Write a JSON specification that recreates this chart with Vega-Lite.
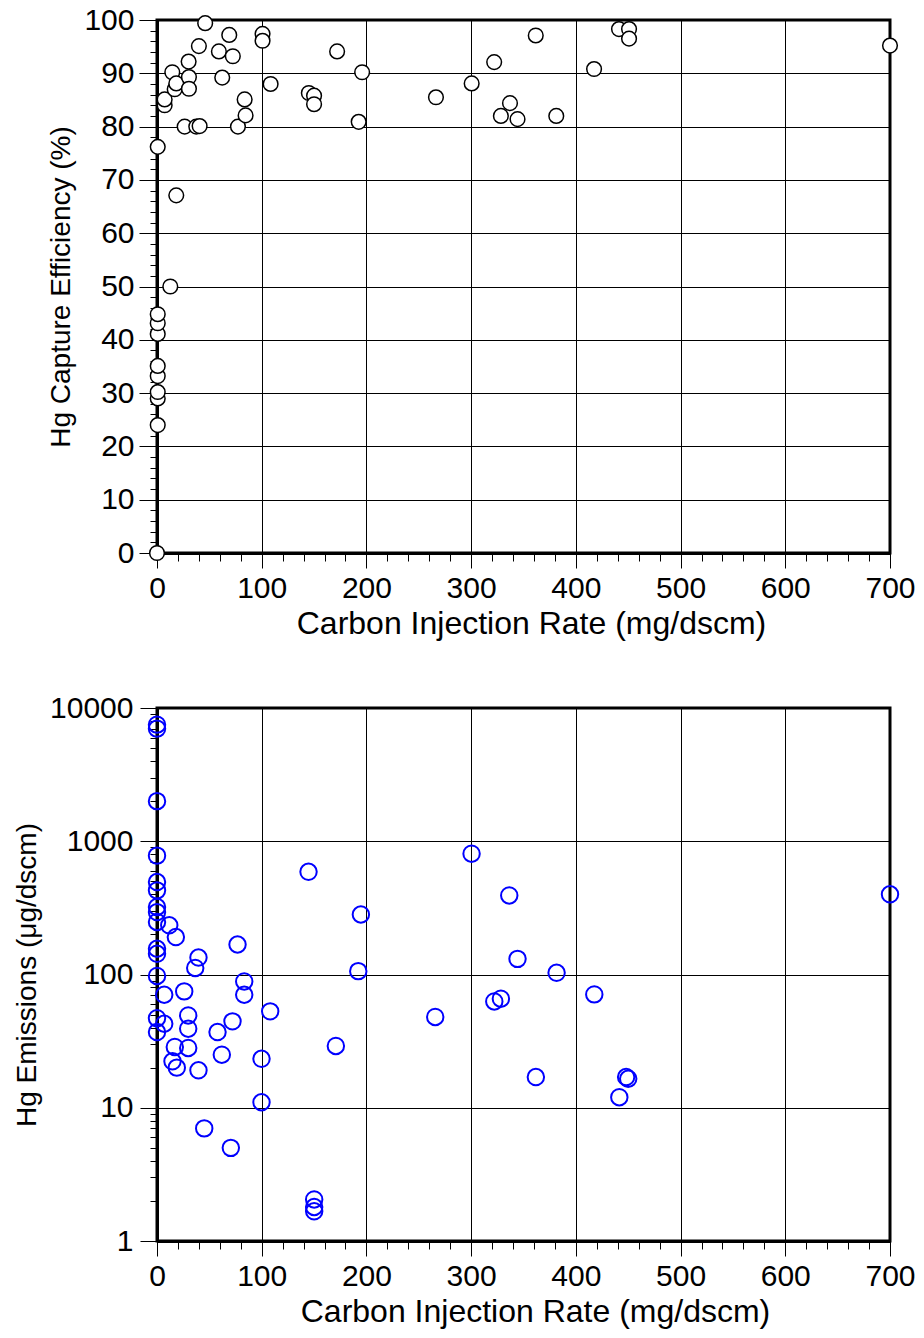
{
  "$schema": "https://vega.github.io/schema/vega-lite/v6.json",
  "background": "white",
  "padding": {"left": 12, "top": 3, "right": 20, "bottom": 5},
  "spacing": 50,
  "config": {
    "font": "Liberation Sans",
    "view": {"stroke": "black", "strokeWidth": 3},
    "axis": {
      "domainColor": "black",
      "domainWidth": 3,
      "tickColor": "black",
      "tickWidth": 1,
      "gridColor": "black",
      "gridWidth": 1,
      "labelColor": "black",
      "labelFontSize": 30,
      "labelFlush": false,
      "labelOverlap": false,
      "labelBound": false,
      "titleColor": "black",
      "titleFontSize": 28,
      "titleFontWeight": "normal"
    }
  },
  "datasets": {
    "capture": [
      {"rate": 0, "eff": 0}, {"rate": 0.7, "eff": 24}, {"rate": 0.7, "eff": 29}, {"rate": 0.7, "eff": 30.2},
      {"rate": 0.7, "eff": 33.2}, {"rate": 0.7, "eff": 35.1}, {"rate": 0.7, "eff": 41.1}, {"rate": 0.7, "eff": 43.1},
      {"rate": 0.7, "eff": 44.8}, {"rate": 0.7, "eff": 76.2}, {"rate": 12.7, "eff": 50}, {"rate": 18.4, "eff": 67.1},
      {"rate": 7.3, "eff": 84}, {"rate": 7.3, "eff": 85.1}, {"rate": 14.6, "eff": 90.2}, {"rate": 16.9, "eff": 87},
      {"rate": 18.4, "eff": 88.1}, {"rate": 26.4, "eff": 80}, {"rate": 30.2, "eff": 92.2}, {"rate": 30.5, "eff": 89.3},
      {"rate": 30.5, "eff": 87.1}, {"rate": 37.5, "eff": 80}, {"rate": 40.7, "eff": 80.1}, {"rate": 40, "eff": 95.1},
      {"rate": 46, "eff": 99.4}, {"rate": 59.1, "eff": 94.1}, {"rate": 62.3, "eff": 89.2}, {"rate": 69, "eff": 97.2},
      {"rate": 72.4, "eff": 93.2}, {"rate": 77.3, "eff": 80}, {"rate": 83.7, "eff": 85.1}, {"rate": 84.6, "eff": 82.1},
      {"rate": 100.8, "eff": 97.4}, {"rate": 100.8, "eff": 96.1}, {"rate": 108.5, "eff": 88}, {"rate": 145, "eff": 86.3},
      {"rate": 150, "eff": 85.8}, {"rate": 150, "eff": 84.2}, {"rate": 172, "eff": 94.1}, {"rate": 192.6, "eff": 80.9},
      {"rate": 195.9, "eff": 90.2}, {"rate": 266.4, "eff": 85.5}, {"rate": 300.5, "eff": 88.1}, {"rate": 322, "eff": 92.1},
      {"rate": 328.4, "eff": 82}, {"rate": 337.1, "eff": 84.4}, {"rate": 344.3, "eff": 81.4}, {"rate": 361.7, "eff": 97.1},
      {"rate": 381.3, "eff": 82}, {"rate": 417.4, "eff": 90.8}, {"rate": 441.2, "eff": 98.3}, {"rate": 450.8, "eff": 98.3},
      {"rate": 450.8, "eff": 96.5}, {"rate": 700, "eff": 95.2}
    ],
    "emissions": [
      {"rate": 0, "hg": 7500}, {"rate": 0, "hg": 7000}, {"rate": 0, "hg": 2000}, {"rate": 0, "hg": 780},
      {"rate": 0, "hg": 494}, {"rate": 0, "hg": 428}, {"rate": 0, "hg": 321}, {"rate": 0, "hg": 294},
      {"rate": 0, "hg": 248}, {"rate": 0, "hg": 156}, {"rate": 0, "hg": 143}, {"rate": 0, "hg": 97.5},
      {"rate": 0, "hg": 47}, {"rate": 0, "hg": 37},
      {"rate": 11.7, "hg": 234}, {"rate": 18, "hg": 191}, {"rate": 39.6, "hg": 134}, {"rate": 36.5, "hg": 112},
      {"rate": 76.9, "hg": 168}, {"rate": 83.3, "hg": 88.7}, {"rate": 83.3, "hg": 70.5}, {"rate": 6.9, "hg": 70.5},
      {"rate": 6.9, "hg": 42.7}, {"rate": 26, "hg": 74.7}, {"rate": 108.1, "hg": 52.9}, {"rate": 29.8, "hg": 49.3},
      {"rate": 29.8, "hg": 39.2}, {"rate": 29.8, "hg": 28.1}, {"rate": 72.1, "hg": 44.5}, {"rate": 57.8, "hg": 37},
      {"rate": 17, "hg": 28.6}, {"rate": 61.9, "hg": 25}, {"rate": 99.8, "hg": 23.3}, {"rate": 99.8, "hg": 11},
      {"rate": 14.8, "hg": 22.3}, {"rate": 18.9, "hg": 20}, {"rate": 39.6, "hg": 19.1}, {"rate": 45.1, "hg": 7},
      {"rate": 70.5, "hg": 5}, {"rate": 150.1, "hg": 2.05}, {"rate": 150.1, "hg": 1.8}, {"rate": 150.1, "hg": 1.67},
      {"rate": 144.7, "hg": 590}, {"rate": 300.4, "hg": 807}, {"rate": 336.4, "hg": 392}, {"rate": 194.7, "hg": 282},
      {"rate": 192.2, "hg": 106}, {"rate": 344.3, "hg": 131}, {"rate": 381.6, "hg": 103}, {"rate": 417.6, "hg": 70.9},
      {"rate": 322.1, "hg": 62.8}, {"rate": 328.4, "hg": 65.8}, {"rate": 265.7, "hg": 48}, {"rate": 170.8, "hg": 29.1},
      {"rate": 361.8, "hg": 17}, {"rate": 448, "hg": 17}, {"rate": 450, "hg": 16.5}, {"rate": 441.5, "hg": 12},
      {"rate": 700, "hg": 400}
    ]
  },
  "vconcat": [
    {
      "width": 733,
      "height": 533,
      "data": {"name": "capture"},
      "mark": {"type": "circle", "fill": "white", "stroke": "black", "strokeWidth": 1.5, "size": 215, "opacity": 1, "clip": false},
      "encoding": {
        "x": {
          "field": "rate", "type": "quantitative",
          "scale": {"domain": [0, 700], "nice": false, "zero": false},
          "axis": {
            "title": "Carbon Injection Rate (mg/dscm)",
            "titleFontSize": 32,
            "titleX": 374,
            "values": [0,20,40,60,80,100,120,140,160,180,200,220,240,260,280,300,320,340,360,380,400,420,440,460,480,500,520,540,560,580,600,620,640,660,680,700],
            "labelExpr": "datum.value % 100 === 0 ? datum.label : ''",
            "tickSize": {"condition": {"test": "datum.value % 100 === 0", "value": 15}, "value": 8},
            "grid": true,
            "gridOpacity": {"condition": {"test": "datum.value % 100 === 0 && datum.value > 0 && datum.value < 700", "value": 1}, "value": 0},
            "labelPadding": 5,
            "titlePadding": 5
          }
        },
        "y": {
          "field": "eff", "type": "quantitative",
          "scale": {"domain": [0, 100], "nice": false, "zero": false},
          "axis": {
            "title": "Hg Capture Efficiency (%)",
            "values": [0,2,4,6,8,10,12,14,16,18,20,22,24,26,28,30,32,34,36,38,40,42,44,46,48,50,52,54,56,58,60,62,64,66,68,70,72,74,76,78,80,82,84,86,88,90,92,94,96,98,100],
            "labelExpr": "datum.value % 10 === 0 ? datum.label : ''",
            "tickSize": {"condition": {"test": "datum.value % 10 === 0", "value": 18}, "value": 7},
            "grid": true,
            "gridOpacity": {"condition": {"test": "datum.value % 10 === 0 && datum.value > 0 && datum.value < 100", "value": 1}, "value": 0},
            "labelPadding": 5,
            "titlePadding": 8
          }
        }
      }
    },
    {
      "width": 733,
      "height": 533,
      "data": {"name": "emissions"},
      "mark": {"type": "point", "shape": "circle", "filled": false, "stroke": "#0000ff", "strokeWidth": 2, "size": 270, "opacity": 1, "clip": false},
      "encoding": {
        "x": {
          "field": "rate", "type": "quantitative",
          "scale": {"domain": [0, 700], "nice": false, "zero": false},
          "axis": {
            "title": "Carbon Injection Rate (mg/dscm)",
            "titleFontSize": 32,
            "titleX": 378,
            "values": [0,20,40,60,80,100,120,140,160,180,200,220,240,260,280,300,320,340,360,380,400,420,440,460,480,500,520,540,560,580,600,620,640,660,680,700],
            "labelExpr": "datum.value % 100 === 0 ? datum.label : ''",
            "tickSize": {"condition": {"test": "datum.value % 100 === 0", "value": 15}, "value": 8},
            "grid": true,
            "gridOpacity": {"condition": {"test": "datum.value % 100 === 0 && datum.value > 0 && datum.value < 700", "value": 1}, "value": 0},
            "labelPadding": 5,
            "titlePadding": 5
          }
        },
        "y": {
          "field": "hg", "type": "quantitative",
          "scale": {"type": "log", "domain": [1, 10000], "nice": false},
          "axis": {
            "title": "Hg Emissions (μg/dscm)",
            "values": [1,2,3,4,5,6,7,8,9,10,20,30,40,50,60,70,80,90,100,200,300,400,500,600,700,800,900,1000,2000,3000,4000,5000,6000,7000,8000,9000,10000],
            "labelExpr": "indexof([1,10,100,1000,10000], datum.value) >= 0 ? format(datum.value, 'd') : ''",
            "tickSize": {"condition": {"test": "indexof([1,10,100,1000,10000], datum.value) >= 0", "value": 17}, "value": 7},
            "grid": true,
            "gridOpacity": {"condition": {"test": "indexof([10,100,1000], datum.value) >= 0", "value": 1}, "value": 0},
            "labelPadding": 7,
            "titlePadding": 8
          }
        }
      }
    }
  ]
}
